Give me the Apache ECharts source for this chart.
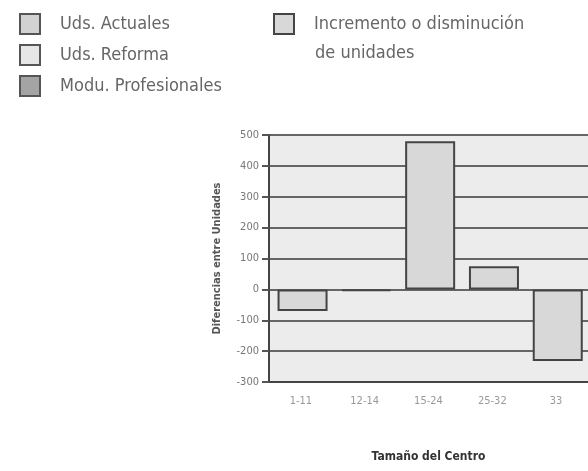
<!DOCTYPE html>
<html>
<head>
<meta charset="utf-8">
<script src="https://cdn.jsdelivr.net/npm/echarts@6/dist/echarts.min.js"></script>
<style>
    html,body{margin:0;padding:0;background:#fff;}
    #main{width:588px;height:471px;}
</style>
</head>
<body>
<div id="main"></div>
<script>
//分类（tamaño del centro）
let categories = ['1-11','12-14','15-24','25-32','33']
//incremento o disminución de unidades
let incremento = [-70,-5,480,75,-232]
//leyenda
let legendLeft = ['Uds. Actuales','Uds. Reforma','Modu. Profesionales']
let legendRight = ['Incremento o disminución']
let legendRight2 = 'de unidades'
let legendColors = ['#d2d2d2','#e6e6e6','#a4a4a4','#d8d8d8']

let fontName = '"Liberation Sans Narrow","DejaVu Sans Condensed","Liberation Sans",sans-serif'

let myChart = echarts.init(document.getElementById('main'))

//空系列只用于图例
let series = legendLeft.map((name,i) => {
    return {
        name:name,
        type:'bar',
        data:[],
        itemStyle:{color:legendColors[i],borderColor:'#555',borderWidth:2}
    }
})
series.push({
    name:legendRight[0],
    type:'bar',
    data:incremento,
    barWidth:50,
    itemStyle:{color:legendColors[3],borderColor:'#444',borderWidth:2},
    silent:true
})

let legendBase = {
    orient:'vertical',
    itemWidth:20,
    itemHeight:20,
    itemGap:9,
    icon:'rect',
    textStyle:{color:'#666',fontSize:18,fontFamily:fontName,padding:[0,0,0,15]},
    selectedMode:false
}

let option = {
    animation:false,
    title:{
        text:legendRight2,
        left:310,
        top:39,
        textStyle:{color:'#666',fontSize:18,fontWeight:'normal',fontFamily:fontName}
    },
    legend:[
        Object.assign({},legendBase,{left:14,top:8,data:legendLeft}),
        Object.assign({},legendBase,{left:268,top:8,data:legendRight})
    ],
    grid:{
        left:269,
        right:-2,
        top:135,
        bottom:89,
        show:true,
        backgroundColor:'#ececec',
        borderWidth:0
    },
    xAxis:{
        type:'category',
        data:categories,
        name:'Tamaño del Centro',
        nameLocation:'middle',
        nameGap:69,
        nameTextStyle:{color:'#333',fontSize:12,fontWeight:'bold',fontFamily:fontName},
        axisLine:{onZero:false,lineStyle:{color:'#444',width:2}},
        axisTick:{alignWithLabel:true,length:5,lineStyle:{color:'#444',width:2}},
        axisLabel:{color:'#999',fontSize:11,fontFamily:fontName,margin:14}
    },
    yAxis:{
        type:'value',
        min:-300,
        max:500,
        interval:100,
        name:'Diferencias entre Unidades',
        nameLocation:'middle',
        nameGap:46,
        nameTextStyle:{color:'#555',fontSize:11,fontWeight:'bold',fontFamily:fontName},
        axisLine:{show:true,lineStyle:{color:'#444',width:2}},
        axisTick:{show:true,length:7,lineStyle:{color:'#555',width:2}},
        axisLabel:{color:'#777',fontSize:11,fontFamily:fontName,margin:10},
        splitLine:{show:true,lineStyle:{color:'#666',width:2}}
    },
    series:series
}
myChart.setOption(option)
</script>
</body>
</html>
